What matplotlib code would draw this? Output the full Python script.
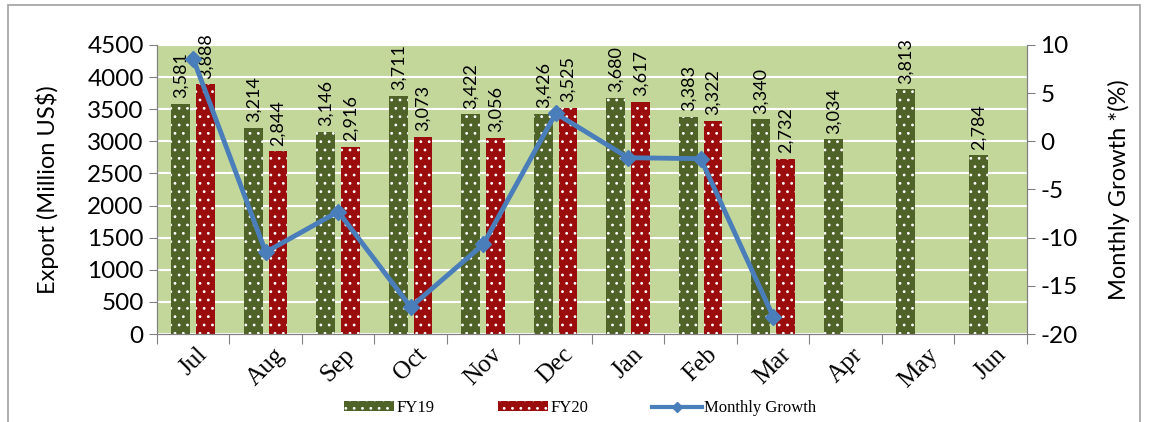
import matplotlib.pyplot as plt
import numpy as np
from matplotlib.patches import Rectangle
from matplotlib.lines import Line2D

plt.rcParams['hatch.color'] = 'white'
plt.rcParams['hatch.linewidth'] = 0.8
plt.rcParams['axes.unicode_minus'] = False

months = ['Jul', 'Aug', 'Sep', 'Oct', 'Nov', 'Dec', 'Jan', 'Feb', 'Mar', 'Apr', 'May', 'Jun']
fy19 = [3581, 3214, 3146, 3711, 3422, 3426, 3680, 3383, 3340, 3034, 3813, 2784]
fy20 = [3888, 2844, 2916, 3073, 3056, 3525, 3617, 3322, 2732]
growth = [8.57, -11.5, -7.3, -17.2, -10.7, 2.9, -1.7, -1.8, -18.2]

green = '#4f6228'
red = '#9b0c0c'
line_col = '#4a7ebb'
sans = 'Lato'
serif = 'Liberation Serif'

fig = plt.figure(figsize=(11.49, 4.22), dpi=100)
fig.patches.append(Rectangle((0.007, -0.05), 0.985, 1.038, transform=fig.transFigure,
                             fill=False, edgecolor='#a0a0a0', linewidth=1.2))
ax = fig.add_axes([0.1366, 0.2085, 0.7572, 0.6849])
ax.set_facecolor('#c4d79b')

x = np.arange(len(months))
w = 0.26
b1 = ax.bar(x - 0.17, fy19, w, color=green, hatch='..', linewidth=0, zorder=2)
b2 = ax.bar(x[:len(fy20)] + 0.17, fy20, w, color=red, hatch='..', linewidth=0, zorder=2)

for bars, vals in ((b1, fy19), (b2, fy20)):
    for rect, v in zip(bars, vals):
        ax.annotate(f'{v:,}', (rect.get_x() + rect.get_width() / 2, v),
                    xytext=(0, 4), textcoords='offset points', rotation=90,
                    ha='center', va='bottom', fontsize=13, family=sans, zorder=5)

ax.set_ylim(0, 4500)
ax.set_yticks(np.arange(0, 4501, 500))
ax.set_xlim(-0.5, 11.5)
ax.yaxis.grid(True, color='white', linewidth=1.5, zorder=1)
ax.set_axisbelow(True)
ax.set_xticks(np.arange(-0.5, 12, 1))
ax.set_xticklabels([])
ax.set_xticks(x, minor=True)
ax.set_xticklabels(months, minor=True, rotation=45, family=serif, fontsize=18)
ax.tick_params(axis='x', which='major', length=7, color='#808080')
ax.tick_params(axis='x', which='minor', length=0, pad=7)
ax.tick_params(axis='y', length=6, color='#808080', labelsize=17.5)
for lab in ax.get_yticklabels():
    lab.set_family(sans)
for s in ax.spines.values():
    s.set_color('#808080')
ax.spines['top'].set_visible(False)
ax.set_ylabel('Export (Million US$)', family=sans, fontsize=17, labelpad=20)

ax2 = ax.twinx()
ax2.plot(x[:len(growth)], growth, color=line_col, linewidth=3.5, marker='D',
         markersize=8, zorder=6)
ax2.set_ylim(-20, 10)
ax2.set_yticks(np.arange(-20, 11, 5))
ax2.tick_params(axis='y', length=6, color='#808080', labelsize=17.5)
for lab in ax2.get_yticklabels():
    lab.set_family(sans)
for s in ax2.spines.values():
    s.set_color('#808080')
ax2.spines['top'].set_visible(False)
ax2.set_ylabel('Monthly Growth *(%)', family=sans, fontsize=17, labelpad=22)

handles = [Rectangle((0, 0), 1, 1, facecolor=green, hatch='..', linewidth=0),
           Rectangle((0, 0), 1, 1, facecolor=red, hatch='..', linewidth=0),
           Line2D([], [], color=line_col, linewidth=3, marker='D', markersize=5)]
fig.legend(handles, ['FY19', 'FY20', 'Monthly Growth'], loc='center',
           bbox_to_anchor=(0.505, 0.033), ncol=3, frameon=False,
           prop={'family': serif, 'size': 12}, handlelength=3.0, handleheight=0.5,
           columnspacing=3.8, handletextpad=0.15)

fig.savefig('out.png', dpi=100)
